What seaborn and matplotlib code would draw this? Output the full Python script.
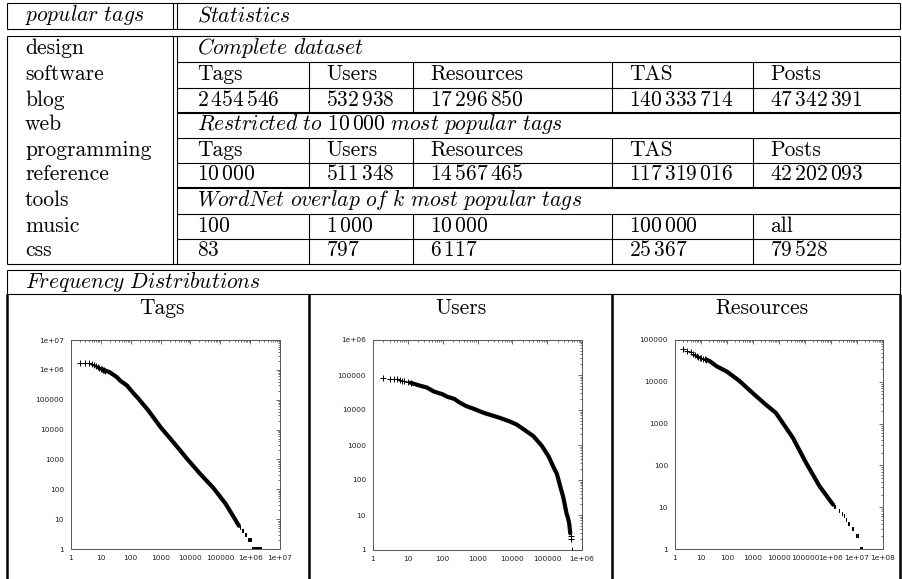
import numpy as np
import pandas as pd
import matplotlib
matplotlib.use('Agg')
import matplotlib.pyplot as plt
import seaborn as sns
from matplotlib.ticker import FixedLocator, FuncFormatter, NullFormatter

sns.set_theme(style='white')
plt.rcParams['font.family'] = ['DejaVu Sans']
plt.rcParams['mathtext.fontset'] = 'cm'

# table content
popular_tags = ['design', 'software', 'blog', 'web', 'programming', 'reference', 'tools', 'music', 'css']
stat_cols = ['Tags', 'Users', 'Resources', 'TAS', 'Posts']
complete_counts = [2454546, 532938, 17296850, 140333714, 47342391]
restricted_counts = [10000, 511348, 14567465, 117319016, 42202093]
wordnet_k = [100, 1000, 10000, 100000, 'all']
wordnet_overlap = [83, 797, 6117, 25367, 79528]

# Tags frequency distribution (rank, count)
tags_head_rank = [2, 3, 4, 5, 6, 7, 8, 9, 10, 11, 12, 13, 14]
tags_head_freq = [1.75e6, 1.7e6, 1.65e6, 1.58e6, 1.45e6, 1.35e6, 1.25e6, 1.15e6, 1.08e6, 1.05e6, 1.0e6, 9.7e5, 9.5e5]
tags_curve_rank = [14, 20, 35, 45, 75, 120, 180, 400, 1000, 3000, 7400, 20000, 59000, 150000, 310000, 420000]
tags_curve_freq = [9.5e5, 8.3e5, 5.6e5, 4.3e5, 3.0e5, 1.7e5, 1.1e5, 4.2e4, 1.2e4, 3.3e3, 1.1e3, 350, 110, 33, 10, 6]
tags_tail_freq = [5, 4, 3, 2, 1]
tags_tail_start = [4.5e5, 5.5e5, 6.8e5, 8.6e5, 1.17e6]
tags_tail_end = [5.0e5, 6.2e5, 7.6e5, 1.12e6, 2.45e6]

# Users
users_head_rank = [2, 3, 4, 5, 6, 7, 8, 10, 12]
users_head_freq = [8.3e4, 7.9e4, 7.7e4, 7.5e4, 7.2e4, 6.9e4, 6.6e4, 6.3e4, 6.0e4]
users_curve_rank = [12, 20, 35, 55, 100, 140, 180, 220, 300, 470, 800, 1500, 4300, 8000, 13000, 25000,
                    40000, 70000, 110000, 150000, 190000, 240000, 290000, 330000, 360000, 400000, 430000, 460000]
users_curve_freq = [6.0e4, 5.1e4, 4.4e4, 3.4e4, 2.8e4, 2.35e4, 2.2e4, 2.05e4, 1.65e4, 1.3e4, 1.07e4, 8.3e3,
                    6.0e3, 4.8e3, 3.9e3, 2.5e3, 1.8e3, 950, 470, 240, 150, 63, 32, 17, 11, 8, 5.6, 3]
users_tail_rank = [4.7e5, 4.9e5, 5.33e5]
users_tail_freq = [2.5, 2, 1]

# Resources
res_head_rank = [2, 3, 4, 5, 6, 7, 8, 9, 10, 12, 14, 16]
res_head_freq = [6.2e4, 5.4e4, 5.1e4, 4.6e4, 4.3e4, 4.1e4, 3.9e4, 3.8e4, 3.7e4, 3.55e4, 3.45e4, 3.4e4]
res_curve_rank = [16, 22, 40, 100, 300, 1000, 3000, 7600, 34000, 110000, 360000, 1200000]
res_curve_freq = [3.4e4, 3.1e4, 2.35e4, 1.75e4, 1.05e4, 5.3e3, 2.9e3, 1.8e3, 460, 115, 32, 11.5]
res_tail_freq = [10, 8, 7, 6, 5, 4, 3, 2, 1]
res_tail_start = [1.26e6, 2.0e6, 2.6e6, 3.3e6, 3.8e6, 4.6e6, 6.3e6, 8.9e6, 1.32e7]
res_tail_end = [1.58e6, 2.3e6, 2.95e6, 3.6e6, 4.2e6, 5.2e6, 7.9e6, 1.15e7, 1.73e7]

W, H = 902, 579
fig = plt.figure(figsize=(W / 100, H / 100), dpi=100)
bg = fig.add_axes([0, 0, 1, 1])
bg.set_xlim(0, W)
bg.set_ylim(H, 0)
bg.axis('off')

FS = 15.5
TXT = dict(fontfamily='cmr10', fontsize=FS, color='black', va='baseline')


def hl(y, x0, x1, lw=0.8):
    bg.plot([x0, x1], [y, y], color='black', lw=lw, solid_capstyle='butt')


def vl(x, y0, y1, lw=0.8):
    bg.plot([x, x], [y0, y1], color='black', lw=lw, solid_capstyle='butt')


def num(n):
    if isinstance(n, str):
        return n
    return r'$\mathrm{' + f'{n:,}'.replace(',', r'\,') + '}$'


def it(s):
    return r'$\mathit{' + s.replace(' ', r'\ ') + '}$'


L, R = 7, 900
D1, D2 = 172.5, 176.5
rows = [36, 62, 88, 113, 138, 163, 188, 214, 239, 264]
col_x = [309, 413, 612, 753]
text_x = [197] + [c + 17 for c in col_x]

# header box
for y in (3, 29):
    hl(y, L, R)
for x in (L, D1, D2, R):
    vl(x, 3, 29)
bg.text(25, 21, it('popular tags'), **TXT)
bg.text(197, 21, it('Statistics'), **TXT)

# main box
hl(36, L, R)
hl(264, L, R)
for x in (L, D1, D2, R):
    vl(x, 36, 264)
for y in rows[1:-1]:
    hl(y, D2, R, lw=1.5 if y in (113, 188) else 0.8)
for y0, y1 in [(62, 113), (138, 188), (214, 264)]:
    for x in col_x:
        vl(x, y0, y1)

for tag, yb in zip(popular_tags, rows[1:]):
    bg.text(25, yb - 7.5, tag, **TXT)

bg.text(text_x[0], rows[1] - 7.5, it('Complete dataset'), **TXT)
bg.text(text_x[0], rows[4] - 7.5,
        r'$\mathit{Restricted\ to}\ \mathrm{10\,000}\ \mathit{most\ popular\ tags}$', **TXT)
bg.text(text_x[0], rows[7] - 7.5, it('WordNet overlap of k most popular tags'), **TXT)
for j in range(5):
    bg.text(text_x[j], rows[2] - 7.5, stat_cols[j], **TXT)
    bg.text(text_x[j], rows[3] - 7.5, num(complete_counts[j]), **TXT)
    bg.text(text_x[j], rows[5] - 7.5, stat_cols[j], **TXT)
    bg.text(text_x[j], rows[6] - 7.5, num(restricted_counts[j]), **TXT)
    bg.text(text_x[j], rows[8] - 7.5, num(wordnet_k[j]), **TXT)
    bg.text(text_x[j], rows[9] - 7.5, num(wordnet_overlap[j]), **TXT)

# frequency distributions box
hl(270, L, R)
hl(294, L, R)
vl(L, 270, 294)
vl(R, 270, 294)
for x in (L, 309, 612, R):
    vl(x, 294, H, lw=1.8)
bg.text(25, 288, it('Frequency Distributions'), **TXT)
for cx, name in zip([162, 461, 762], ['Tags', 'Users', 'Resources']):
    bg.text(cx, 314, name, ha='center', **TXT)


def log_label(v, pos):
    if v < 1e6:
        return f'{int(round(v))}'
    return f'{v:.0e}'


def make_ax(x0, x1, y0, y1, xexp, yexp):
    ax = fig.add_axes([x0 / W, 1 - y1 / H, (x1 - x0) / W, (y1 - y0) / H])
    ax.set_xscale('log')
    ax.set_yscale('log')
    ax.set_xlim(1, 10 ** xexp)
    ax.set_ylim(1, 10 ** yexp)
    ax.xaxis.set_major_locator(FixedLocator([10.0 ** i for i in range(xexp + 1)]))
    ax.yaxis.set_major_locator(FixedLocator([10.0 ** i for i in range(yexp + 1)]))
    ax.xaxis.set_minor_locator(FixedLocator([m * 10.0 ** i for i in range(xexp) for m in range(2, 10)]))
    ax.yaxis.set_minor_locator(FixedLocator([m * 10.0 ** i for i in range(yexp) for m in range(2, 10)]))
    ax.xaxis.set_major_formatter(FuncFormatter(log_label))
    ax.yaxis.set_major_formatter(FuncFormatter(log_label))
    ax.xaxis.set_minor_formatter(NullFormatter())
    ax.yaxis.set_minor_formatter(NullFormatter())
    ax.tick_params(which='both', direction='in', top=True, right=True, color='#555', width=0.6)
    ax.tick_params(which='major', length=3)
    ax.tick_params(which='minor', length=1.5)
    ax.tick_params(axis='x', labelsize=5.3, pad=4, labelcolor='#222')
    ax.tick_params(axis='y', labelsize=5.3, pad=5, labelcolor='#222')
    for s in ax.spines.values():
        s.set_color('#555')
        s.set_linewidth(0.7)
    ax.set_facecolor('white')
    return ax


def tail_frame(freq, start, end):
    return pd.DataFrame({
        'rank': [v for a, b in zip(start, end) for v in (a, b)],
        'freq': [f for f in freq for _ in range(2)],
        'seg': [i for i in range(len(freq)) for _ in range(2)],
    })


LW = 3.0
TLW = 2.8
plus = dict(marker='+', s=14, linewidth=0.7, color='black')

# Tags
ax1 = make_ax(71, 280, 340, 549, 7, 7)
sns.scatterplot(x=tags_head_rank, y=tags_head_freq, ax=ax1, **plus)
sns.lineplot(x=tags_curve_rank, y=tags_curve_freq, ax=ax1, color='black', lw=LW, estimator=None, sort=False)
sns.lineplot(data=tail_frame(tags_tail_freq, tags_tail_start, tags_tail_end), x='rank', y='freq',
             units='seg', estimator=None, ax=ax1, color='black', lw=TLW, solid_capstyle='butt')

# Users
ax2 = make_ax(373, 582, 340, 550, 6, 6)
sns.scatterplot(x=users_head_rank, y=users_head_freq, ax=ax2, **plus)
sns.lineplot(x=users_curve_rank, y=users_curve_freq, ax=ax2, color='black', lw=LW, estimator=None, sort=False)
sns.scatterplot(x=users_tail_rank, y=users_tail_freq, ax=ax2, **plus)

# Resources
ax3 = make_ax(675, 883, 340, 549, 8, 5)
sns.scatterplot(x=res_head_rank, y=res_head_freq, ax=ax3, **plus)
sns.lineplot(x=res_curve_rank, y=res_curve_freq, ax=ax3, color='black', lw=LW, estimator=None, sort=False)
sns.lineplot(data=tail_frame(res_tail_freq, res_tail_start, res_tail_end), x='rank', y='freq',
             units='seg', estimator=None, ax=ax3, color='black', lw=TLW, solid_capstyle='butt')

for ax in (ax1, ax2, ax3):
    ax.set_xlabel('')
    ax.set_ylabel('')

fig.savefig('out.png', dpi=100, facecolor='white')
